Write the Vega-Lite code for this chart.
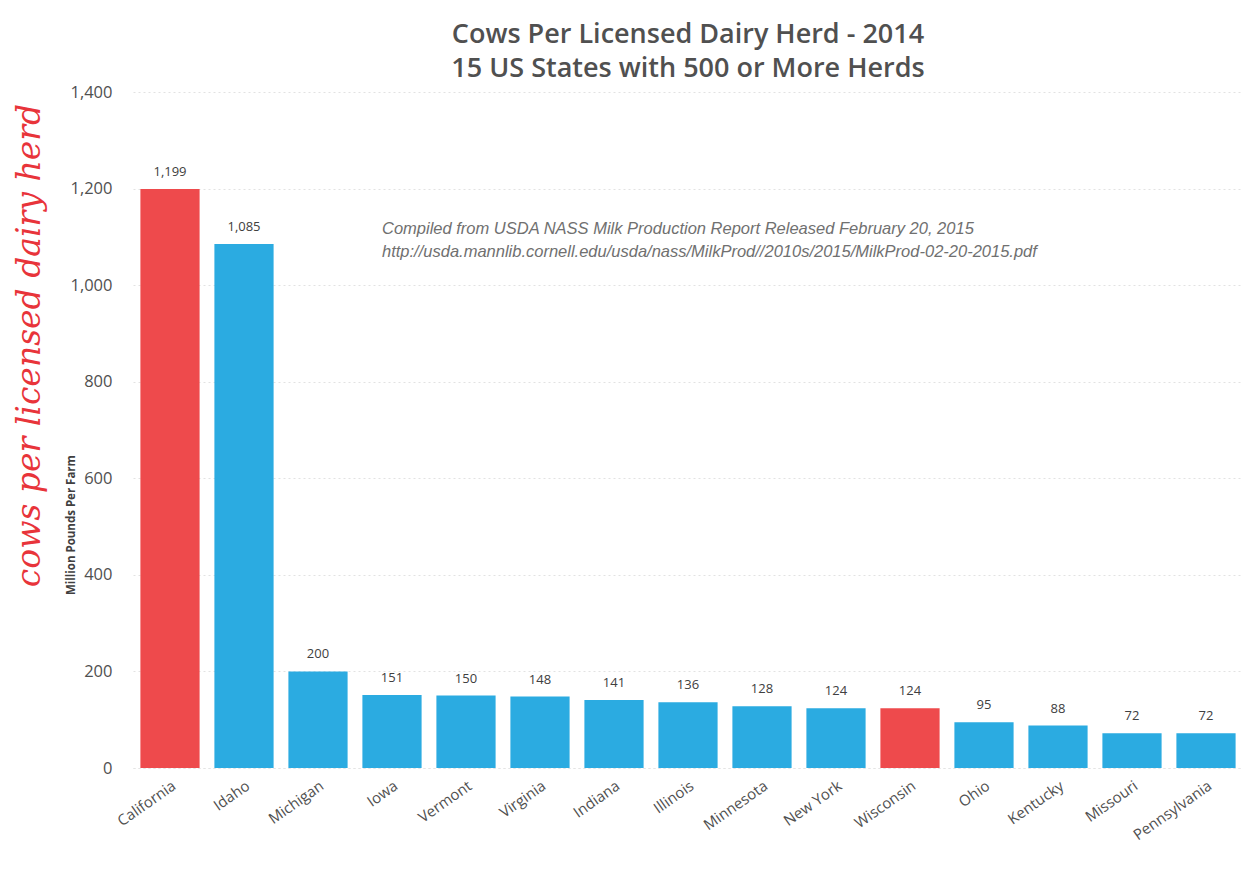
{
  "$schema": "https://vega.github.io/schema/vega-lite/v6.json",
  "autosize": "none",
  "width": 1110,
  "height": 676,
  "padding": {"left": 133, "top": 92, "right": 0, "bottom": 114},
  "background": "white",
  "title": {
    "text": ["Cows Per Licensed Dairy Herd - 2014", "15 US States with 500 or More Herds"],
    "font": "Open Sans",
    "fontSize": 27,
    "fontWeight": 600,
    "color": "#505050",
    "lineHeight": 34,
    "anchor": "middle",
    "offset": 1
  },
  "data": {
    "values": [
      {"state": "California", "cows": 1199, "highlight": "yes"},
      {"state": "Idaho", "cows": 1085, "highlight": "no"},
      {"state": "Michigan", "cows": 200, "highlight": "no"},
      {"state": "Iowa", "cows": 151, "highlight": "no"},
      {"state": "Vermont", "cows": 150, "highlight": "no"},
      {"state": "Virginia", "cows": 148, "highlight": "no"},
      {"state": "Indiana", "cows": 141, "highlight": "no"},
      {"state": "Illinois", "cows": 136, "highlight": "no"},
      {"state": "Minnesota", "cows": 128, "highlight": "no"},
      {"state": "New York", "cows": 124, "highlight": "no"},
      {"state": "Wisconsin", "cows": 124, "highlight": "yes"},
      {"state": "Ohio", "cows": 95, "highlight": "no"},
      {"state": "Kentucky", "cows": 88, "highlight": "no"},
      {"state": "Missouri", "cows": 72, "highlight": "no"},
      {"state": "Pennsylvania", "cows": 72, "highlight": "no"}
    ]
  },
  "config": {
    "view": {"stroke": null},
    "font": "Open Sans"
  },
  "encoding": {
    "x": {
      "field": "state",
      "type": "nominal",
      "sort": null,
      "scale": {"paddingInner": 0.2, "paddingOuter": 0.1},
      "axis": {
        "title": null,
        "labelAngle": -35,
        "labelFontSize": 15,
        "labelColor": "#505050",
        "labelPadding": 10,
        "ticks": false,
        "domain": true,
        "domainColor": "#e4e4e4",
        "domainDash": [2, 3]
      }
    },
    "y": {
      "field": "cows",
      "type": "quantitative",
      "scale": {"domain": [0, 1400]},
      "axis": {
        "values": [0, 200, 400, 600, 800, 1000, 1200, 1400],
        "format": ",.0f",
        "labelFontSize": 16.5,
        "labelColor": "#505050",
        "labelPadding": 21,
        "ticks": false,
        "domain": false,
        "grid": true,
        "gridColor": "#e2e2e2",
        "gridDash": [2, 3],
        "title": "cows per licensed dairy herd",
        "titleFont": "DejaVu Serif",
        "titleFontStyle": "italic",
        "titleFontWeight": "normal",
        "titleFontSize": 33,
        "titleColor": "#E8343A",
        "titleAngle": -90,
        "titleAlign": "center",
        "titleBaseline": "middle",
        "titleX": -104,
        "titleY": 253
      }
    }
  },
  "layer": [
    {
      "mark": {"type": "bar"},
      "encoding": {
        "color": {
          "field": "highlight",
          "type": "nominal",
          "scale": {"domain": ["yes", "no"], "range": ["#EE4A4C", "#2BABE1"]},
          "legend": null
        }
      }
    },
    {
      "mark": {"type": "text", "dy": -17, "fontSize": 13, "color": "#404040"},
      "encoding": {
        "text": {"field": "cows", "type": "quantitative", "format": ",.0f"}
      }
    },
    {
      "transform": [{"filter": "datum.state === 'Iowa'"}],
      "mark": {
        "type": "text",
        "align": "left",
        "baseline": "middle",
        "font": "Liberation Sans",
        "fontSize": 16.5,
        "fontStyle": "italic",
        "fontWeight": "normal",
        "color": "#707070",
        "lineHeight": 23,
        "dx": -10
      },
      "encoding": {
        "y": {"datum": 1117},
        "text": {"value": ["Compiled from USDA NASS Milk Production Report Released February 20, 2015", "http://usda.mannlib.cornell.edu/usda/nass/MilkProd//2010s/2015/MilkProd-02-20-2015.pdf"]}
      }
    },
    {
      "transform": [{"filter": "datum.state === 'California'"}],
      "mark": {
        "type": "text",
        "align": "center",
        "baseline": "middle",
        "angle": 270,
        "fontSize": 11.5,
        "fontWeight": "bold",
        "color": "#404040",
        "dy": -98
      },
      "encoding": {
        "y": {"datum": 503},
        "text": {"value": "Million Pounds Per Farm"}
      }
    }
  ]
}
